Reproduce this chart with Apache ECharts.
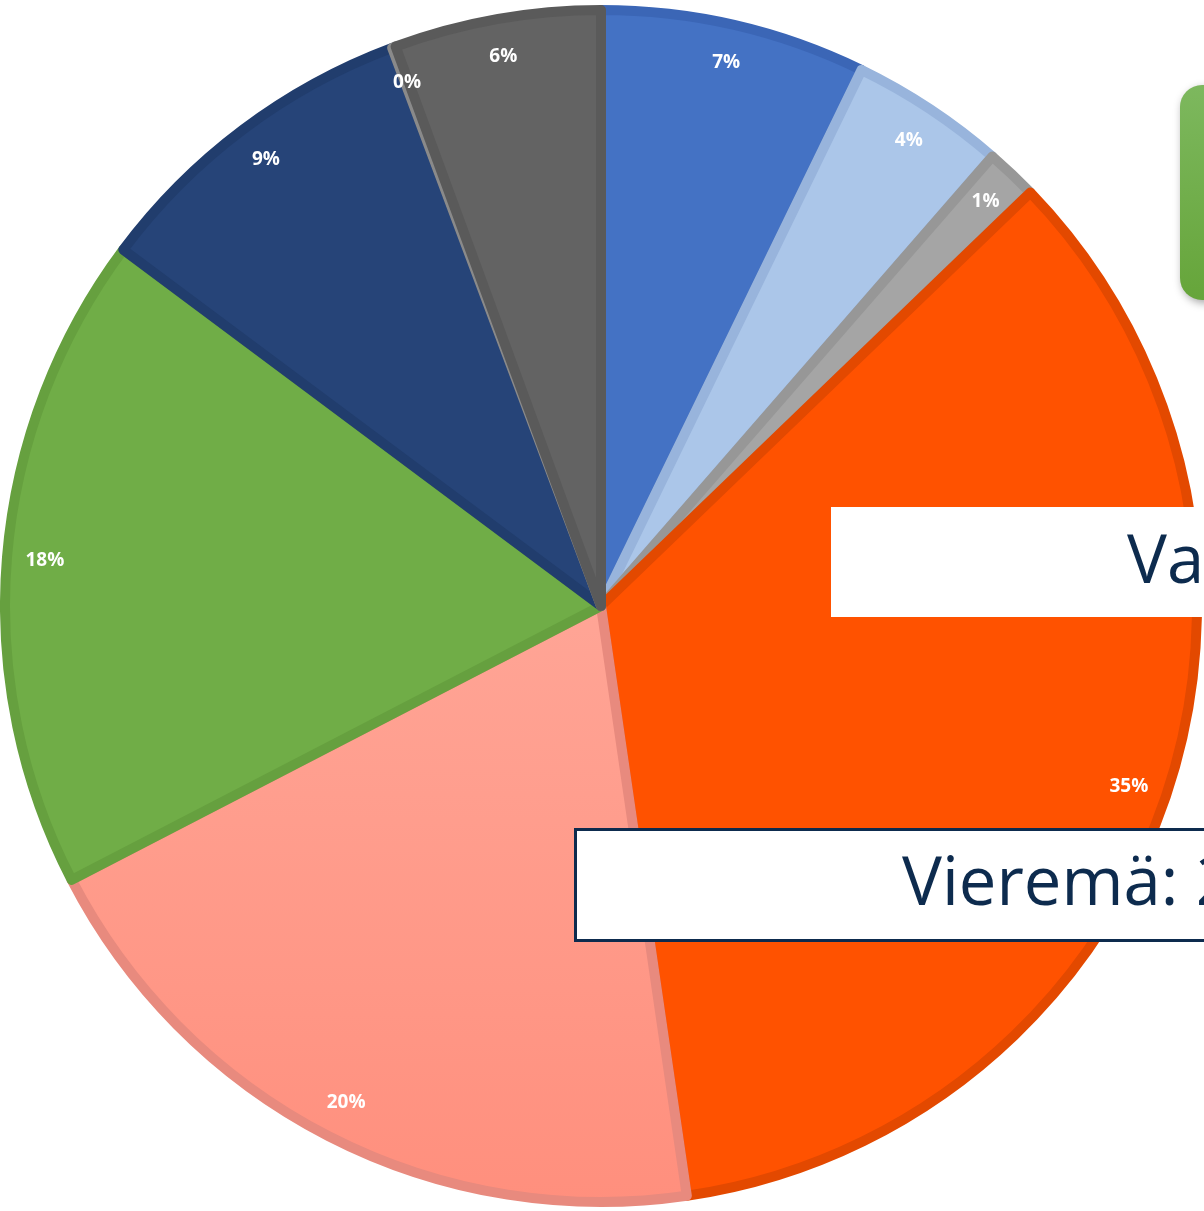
<!DOCTYPE html>
<html>
<head>
<meta charset="utf-8">
<script src="https://cdn.jsdelivr.net/npm/echarts@6/dist/echarts.min.js"></script>
<style>
  html, body { margin: 0; padding: 0; background: #fff; }
  #chart { width: 1204px; height: 1211px; }
</style>
</head>
<body>
<div id="chart"></div>
<script>
// slices clockwise from 12 o'clock
var sliceNames = ['A', 'B', 'C', 'D', 'E', 'F', 'G', 'H', 'I'];
var sliceValues = [7.2, 4.2, 1.4, 34.9, 19.7, 17.8, 9.1, 0.1, 5.6];
var sliceColors = ['#4472c4', '#abc6e9', '#a5a5a5', '#ff5200', '#ff9b8b', '#70ad47', '#264478', '#7a7a7a', '#636363'];
var sliceBorders = ['#3b66b6', '#98b4dc', '#979797', '#e34900', '#e88a7e', '#66a03f', '#213d6d', '#8a8a8a', '#5a5a5a'];

var chartDom = document.getElementById('chart');
var myChart = echarts.init(chartDom);

var pieData = [];
var labelData = [];
for (var i = 0; i < sliceValues.length; i++) {
    var col = sliceColors[i];
    if (i == 4) {
        col = new echarts.graphic.LinearGradient(0, 0, 0, 1, [
            { offset: 0, color: '#ffa596' },
            { offset: 1, color: '#ff8f7d' }
        ]);
    }
    pieData.push({
        name: sliceNames[i],
        value: sliceValues[i],
        itemStyle: { color: col, borderColor: sliceBorders[i] }
    });
    labelData.push({ name: sliceNames[i], value: sliceValues[i] });
}

var option = {
    animation: false,
    series: [
        {
            type: 'pie',
            center: [601, 606],
            radius: [0, 596],
            startAngle: 90,
            clockwise: true,
            silent: true,
            label: { show: false },
            labelLine: { show: false },
            itemStyle: { borderWidth: 10 },
            data: pieData
        },
        {
            // labels only, sitting near the rim
            type: 'pie',
            center: [601, 606],
            radius: [510, 600],
            startAngle: 90,
            clockwise: true,
            silent: true,
            itemStyle: { color: 'rgba(0,0,0,0)', borderWidth: 0 },
            labelLine: { show: false },
            label: {
                show: true,
                position: 'inside',
                color: '#fff',
                fontFamily: 'Open Sans',
                fontWeight: 'bold',
                fontSize: 19,
                formatter: function (p) {
                    return Math.round(p.percent) + '%';
                }
            },
            data: labelData
        }
    ],
    graphic: [
        {
            type: 'rect',
            shape: { x: 1180, y: 85, width: 60, height: 215, r: 22 },
            style: {
                fill: new echarts.graphic.LinearGradient(0, 0, 0, 1, [
                    { offset: 0, color: '#7db85e' },
                    { offset: 1, color: '#66a53a' }
                ]),
                shadowBlur: 8,
                shadowColor: 'rgba(0,0,0,0.35)',
                shadowOffsetX: 2,
                shadowOffsetY: 3
            },
            z: 10
        },
        {
            type: 'rect',
            shape: { x: 831, y: 507, width: 400, height: 110 },
            style: { fill: '#fff' },
            z: 10
        },
        {
            type: 'text',
            x: 1127, y: 564,
            style: {
                text: 'Va',
                font: '67px "Open Sans"',
                fill: '#0d2b4e',
                verticalAlign: 'middle'
            },
            z: 11
        },
        {
            type: 'rect',
            shape: { x: 575.5, y: 829.5, width: 660, height: 111 },
            style: { fill: '#fff', stroke: '#0d2b4e', lineWidth: 3 },
            z: 10
        },
        {
            type: 'text',
            x: 902, y: 886,
            style: {
                text: 'Vieremä: 2',
                font: '67px "Open Sans"',
                fill: '#0d2b4e',
                verticalAlign: 'middle'
            },
            z: 11
        }
    ]
};
option && myChart.setOption(option);
</script>
</body>
</html>
